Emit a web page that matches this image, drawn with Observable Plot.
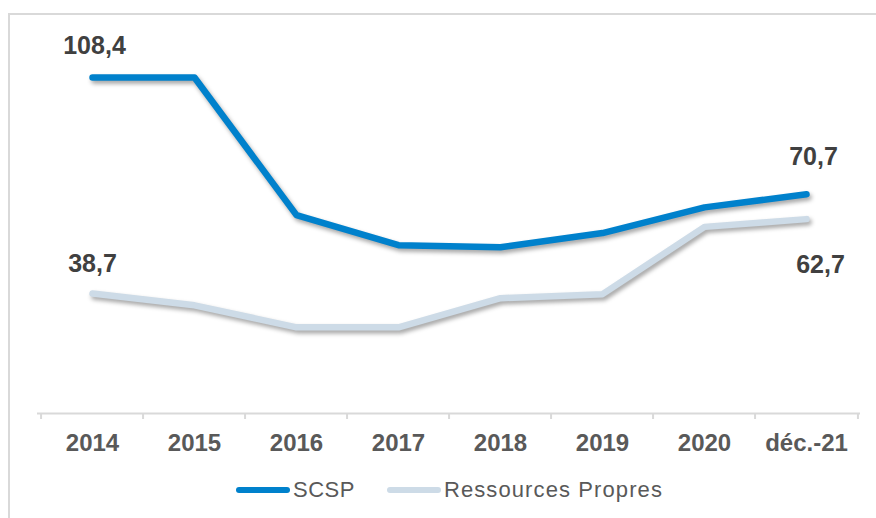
<!DOCTYPE html>
<html>
<head>
<meta charset="utf-8">
<script src="https://cdn.jsdelivr.net/npm/d3@7"></script>
<script src="https://cdn.jsdelivr.net/npm/@observablehq/plot@0.6"></script>
<style>
  html, body { margin: 0; padding: 0; background: #fff; overflow: hidden; }
  #wrap { position: relative; width: 876px; height: 518px; font-family: "Liberation Sans", Arial, sans-serif; }
  #frame { position: absolute; left: 8px; top: 13px; width: 900px; height: 600px; border: 2px solid #d9d9d9; box-sizing: border-box; pointer-events: none; }
  #chart { position: absolute; left: 0; top: 0; }
  #chart svg [aria-label="line"] path { filter: drop-shadow(2px 3px 2px rgba(0,0,0,0.35)); }
  #legend { position: absolute; left: 236px; top: 477px; display: flex; align-items: center; font-size: 22px; color: #595959; letter-spacing: 0.5px; }
  #legend .sw { display: inline-block; width: 54px; height: 6px; border-radius: 3px; margin-right: 3px; }
  #legend .item { display: flex; align-items: center; margin-right: 32px; }
  #legend .item:last-child { letter-spacing: 1.1px; }
</style>
</head>
<body>
<div id="wrap">
  <div id="chart"></div>
  <div id="frame"></div>
  <div id="legend"></div>
</div>
<script>
const categories = ["2014", "2015", "2016", "2017", "2018", "2019", "2020", "déc.-21"];
const scsp = [108.4, 108.4, 64.0, 54.3, 53.6, 58.2, 66.5, 70.7];
const ressources = [38.7, 34.9, 27.8, 27.8, 37.2, 38.5, 60.2, 62.7];
const seriesNames = ["SCSP", "Ressources Propres"];
const seriesColors = ["#0081cc", "#cddbe7"];

const W = 876, H = 460, ML = 37, MR = 16, MT = 41, MB = 47;
const step = (W - ML - MR) / categories.length;

const rows = [];
categories.forEach((c, i) => {
  rows.push({cat: c, value: scsp[i], series: seriesNames[0]});
  rows.push({cat: c, value: ressources[i], series: seriesNames[1]});
});
const fmt = v => v.toFixed(1).replace(".", ",");
const last = categories.length - 1;
const labelRows = [
  {cat: categories[0], value: scsp[0], dx: 2, dy: -31},
  {cat: categories[last], value: scsp[last], dx: 7, dy: -37},
  {cat: categories[0], value: ressources[0], dx: 0, dy: -30},
  {cat: categories[last], value: ressources[last], dx: 14, dy: 46}
];

const chart = Plot.plot({
  width: W,
  height: H,
  marginLeft: ML,
  marginRight: MR,
  marginTop: MT,
  marginBottom: MB,
  style: {fontFamily: "Liberation Sans, Arial, sans-serif", background: "transparent"},
  x: {type: "point", domain: categories, padding: 0.5, label: null},
  y: {domain: [0, 120], axis: null},
  color: {domain: seriesNames, range: seriesColors},
  marks: [
    Plot.ruleY([0], {stroke: "#d9d9d9", strokeWidth: 2}),
    Plot.ruleX(categories, {x: d => d, y1: 0, y2: 0, insetBottom: -6, dx: -step / 2, stroke: "#d9d9d9", strokeWidth: 2}),
    Plot.ruleX([categories[last]], {x: d => d, y1: 0, y2: 0, insetBottom: -6, dx: step / 2, stroke: "#d9d9d9", strokeWidth: 2}),
    Plot.axisX({tickSize: 0, tickPadding: 20, fontSize: 24, fontWeight: "bold", color: "#595959", label: null}),
    Plot.line(rows.filter(d => d.series === seriesNames[1]), {x: "cat", y: "value", stroke: "series", strokeWidth: 6.5, strokeLinecap: "round", strokeLinejoin: "round"}),
    Plot.line(rows.filter(d => d.series === seriesNames[0]), {x: "cat", y: "value", stroke: "series", strokeWidth: 6.5, strokeLinecap: "round", strokeLinejoin: "round"}),
    ...labelRows.map(r => Plot.text([r], {x: "cat", y: "value", text: d => fmt(d.value), dx: r.dx, dy: r.dy, fontSize: 25, fontWeight: "bold", fill: "#404040"}))
  ]
});
document.getElementById("chart").appendChild(chart);

const legend = document.getElementById("legend");
seriesNames.forEach((name, i) => {
  const item = document.createElement("span");
  item.className = "item";
  const sw = document.createElement("span");
  sw.className = "sw";
  sw.style.background = seriesColors[i];
  const t = document.createElement("span");
  t.textContent = name;
  item.appendChild(sw);
  item.appendChild(t);
  legend.appendChild(item);
});
</script>
</body>
</html>
